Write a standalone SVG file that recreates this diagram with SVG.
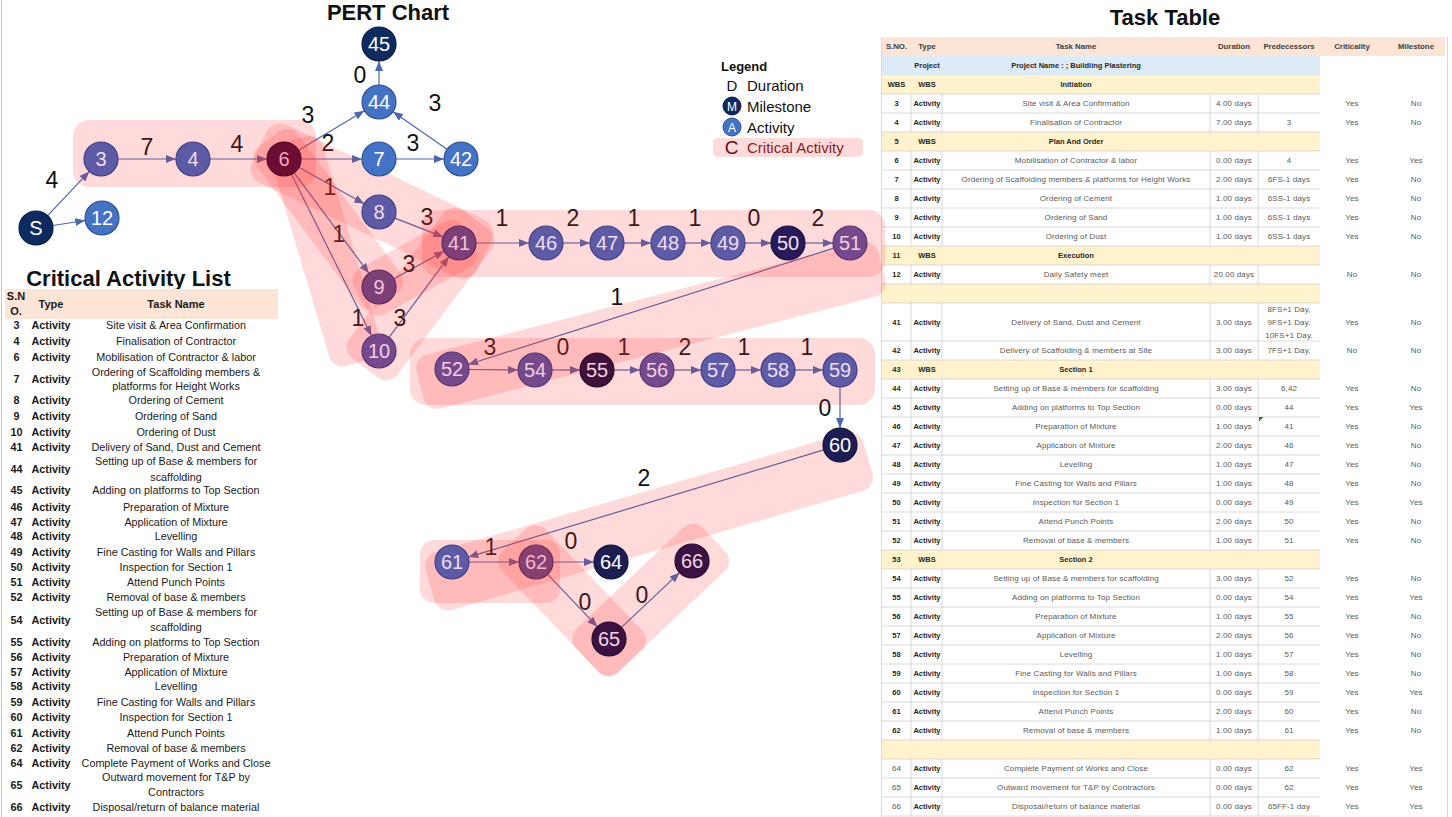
<svg xmlns="http://www.w3.org/2000/svg" width="1452" height="817" viewBox="0 0 1452 817">
<style>
text{font-family:"Liberation Sans",Arial,sans-serif}
.title{font-size:22px;font-weight:bold;fill:#111}
.hl{fill:#ff3030;fill-opacity:0.18}
.cn{stroke:#4a66ae;stroke-width:1.2;fill:none;marker-end:url(#ah)}
.dl{font-size:23px;fill:#111;text-anchor:middle}
.nd text{font-size:20px;text-anchor:middle}
.nd circle{stroke-width:1.2}
.blue circle{fill:#4472c4;stroke:#2f528f}.blue text{fill:#fff}
.navy circle{fill:#0e2a5e;stroke:#0a1f47}.navy text{fill:#fff}
.c1 circle{fill:#5d5ba6;stroke:#453f85}.c1 text{fill:#f4dcef}
.c2 circle{fill:#744a8c;stroke:#5a3470}.c2 text{fill:#f3cde0}
.c3 circle{fill:#7d3f78;stroke:#5f2b5c}.c3 text{fill:#f3c4d8}
.c62 circle{fill:#874070;stroke:#6a2f58}.c62 text{fill:#f2b6cc}
.c6 circle{fill:#6c0d33;stroke:#520826}.c6 text{fill:#f5a9b8}
.c50 circle{fill:#261a58;stroke:#1a1142}.c50 text{fill:#f0e0f0}
.c55 circle{fill:#3f1239;stroke:#2c0b28}.c55 text{fill:#f0d0e0}
.c60 circle{fill:#1d1d52;stroke:#13133d}.c60 text{fill:#fff}
.c65 circle{fill:#3b1242;stroke:#290b2f}.c65 text{fill:#f2d6e6}
.tt{font-size:8px;letter-spacing:0.12px;fill:#595959;text-anchor:middle}
.tt .b{font-weight:bold;fill:#262626;font-size:7.5px;letter-spacing:0}
.th{font-size:7.8px;font-weight:bold;fill:#404040;text-anchor:middle}
.cl{font-size:10.8px;fill:#1a1a1a;text-anchor:middle}
.cl .b{font-weight:bold;font-size:10.8px}
.clh{font-size:11px;font-weight:bold;fill:#1a1a1a;text-anchor:middle}
.grid{stroke:#d0d0d0;stroke-width:0.8;fill:none}
.lg{font-size:15px;fill:#111}
</style>
<defs>
<marker id="ah" viewBox="0 0 10 8" refX="10" refY="4" markerWidth="10" markerHeight="8" markerUnits="userSpaceOnUse" orient="auto"><path d="M0,0 L10,4 L0,8 z" fill="#4a66ae"/></marker>
</defs>
<rect width="1452" height="817" fill="#fff"/>
<line x1="1.5" y1="0" x2="1.5" y2="817" stroke="#c4c4c4" stroke-width="1"/>

<!-- Titles -->
<text class="title" x="388" y="20" text-anchor="middle">PERT Chart</text>
<text class="title" x="1165" y="25" text-anchor="middle">Task Table</text>
<text class="title" x="128.5" y="286" text-anchor="middle">Critical Activity List</text>

<!-- Task Table -->
<g id="task-table">
<rect x="882" y="37" width="563" height="19" fill="#fce4d6"/>
<rect x="882" y="56" width="438" height="19" fill="#ddebf7"/>
<g fill="#fff2cc">
<rect x="882" y="75" width="438" height="19"/>
<rect x="882" y="132" width="438" height="19"/>
<rect x="882" y="246" width="438" height="19"/>
<rect x="882" y="284" width="438" height="19"/>
<rect x="882" y="360" width="438" height="19"/>
<rect x="882" y="550" width="438" height="19"/>
<rect x="882" y="740" width="438" height="19"/>
</g>
<path class="grid" d="M882,94H1320M882,113H1320M882,132H1320M882,151H1320M882,170H1320M882,189H1320M882,208H1320M882,227H1320M882,246H1320M882,265H1320M882,284H1320M882,303H1320M882,341H1320M882,360H1320M882,379H1320M882,398H1320M882,417H1320M882,436H1320M882,455H1320M882,474H1320M882,493H1320M882,512H1320M882,531H1320M882,550H1320M882,569H1320M882,588H1320M882,607H1320M882,626H1320M882,645H1320M882,664H1320M882,683H1320M882,702H1320M882,721H1320M882,740H1320M882,759H1320M882,778H1320M882,797H1320M882,816H1320"/>
<path class="grid" d="M911,94V132M942,94V132M1210,94V132M1258,94V132M911,151V246M942,151V246M1210,151V246M1258,151V246M911,265V284M942,265V284M1210,265V284M1258,265V284M911,303V360M942,303V360M1210,303V360M1258,303V360M911,379V550M942,379V550M1210,379V550M1258,379V550M911,569V740M942,569V740M1210,569V740M1258,569V740M911,759V816M942,759V816M1210,759V816M1258,759V816"/>
<line x1="881.5" y1="37" x2="881.5" y2="817" stroke="#d9d9d9" stroke-width="1"/>
<line x1="1447.5" y1="37" x2="1447.5" y2="817" stroke="#d9d9d9" stroke-width="1"/>
<path d="M1259,417h4.5l-4.5,4.5z" fill="#1e8a3a"/>
<text class="th" y="49.2"><tspan x="896.5">S.NO.</tspan><tspan x="927">Type</tspan><tspan x="1076">Task Name</tspan><tspan x="1234">Duration</tspan><tspan x="1289">Predecessors</tspan><tspan x="1352">Criticality</tspan><tspan x="1416">Milestone</tspan></text>
<text class="tt" y="68.2"><tspan class="b" x="927">Project</tspan><tspan class="b" x="1076">Project Name : ; Buildiing Plastering</tspan></text>
<text class="tt" y="87.2"><tspan class="b" x="896.5">WBS</tspan><tspan class="b" x="927">WBS</tspan><tspan class="b" x="1076">Initiation</tspan></text>
<text class="tt" y="106.2"><tspan class="b" x="896.5">3</tspan><tspan class="b" x="927">Activity</tspan><tspan x="1076">Site visit &amp; Area Confirmation</tspan><tspan x="1234">4.00 days</tspan><tspan x="1352">Yes</tspan><tspan x="1416">No</tspan></text>
<text class="tt" y="125.2"><tspan class="b" x="896.5">4</tspan><tspan class="b" x="927">Activity</tspan><tspan x="1076">Finalisation of Contractor</tspan><tspan x="1234">7.00 days</tspan><tspan x="1289">3</tspan><tspan x="1352">Yes</tspan><tspan x="1416">No</tspan></text>
<text class="tt" y="144.2"><tspan class="b" x="896.5">5</tspan><tspan class="b" x="927">WBS</tspan><tspan class="b" x="1076">Plan And Order</tspan></text>
<text class="tt" y="163.2"><tspan class="b" x="896.5">6</tspan><tspan class="b" x="927">Activity</tspan><tspan x="1076">Mobilisation of Contractor &amp; labor</tspan><tspan x="1234">0.00 days</tspan><tspan x="1289">4</tspan><tspan x="1352">Yes</tspan><tspan x="1416">Yes</tspan></text>
<text class="tt" y="182.2"><tspan class="b" x="896.5">7</tspan><tspan class="b" x="927">Activity</tspan><tspan x="1076">Ordering of Scaffolding members &amp; platforms for Height Works</tspan><tspan x="1234">2.00 days</tspan><tspan x="1289">6FS-1 days</tspan><tspan x="1352">Yes</tspan><tspan x="1416">No</tspan></text>
<text class="tt" y="201.2"><tspan class="b" x="896.5">8</tspan><tspan class="b" x="927">Activity</tspan><tspan x="1076">Ordering of Cement</tspan><tspan x="1234">1.00 days</tspan><tspan x="1289">6SS-1 days</tspan><tspan x="1352">Yes</tspan><tspan x="1416">No</tspan></text>
<text class="tt" y="220.2"><tspan class="b" x="896.5">9</tspan><tspan class="b" x="927">Activity</tspan><tspan x="1076">Ordering of Sand</tspan><tspan x="1234">1.00 days</tspan><tspan x="1289">6SS-1 days</tspan><tspan x="1352">Yes</tspan><tspan x="1416">No</tspan></text>
<text class="tt" y="239.2"><tspan class="b" x="896.5">10</tspan><tspan class="b" x="927">Activity</tspan><tspan x="1076">Ordering of Dust</tspan><tspan x="1234">1.00 days</tspan><tspan x="1289">6SS-1 days</tspan><tspan x="1352">Yes</tspan><tspan x="1416">No</tspan></text>
<text class="tt" y="258.2"><tspan class="b" x="896.5">11</tspan><tspan class="b" x="927">WBS</tspan><tspan class="b" x="1076">Execution</tspan></text>
<text class="tt" y="277.2"><tspan class="b" x="896.5">12</tspan><tspan class="b" x="927">Activity</tspan><tspan x="1076">Daily Safety meet</tspan><tspan x="1234">20.00 days</tspan><tspan x="1352">No</tspan><tspan x="1416">No</tspan></text>
<text class="tt" y="324.7"><tspan class="b" x="896.5">41</tspan><tspan class="b" x="927">Activity</tspan><tspan x="1076">Delivery of Sand, Dust and Cement</tspan><tspan x="1234">3.00 days</tspan><tspan x="1352">Yes</tspan><tspan x="1416">No</tspan></text>
<text class="tt"><tspan x="1289" y="311.7">8FS+1 Day,</tspan><tspan x="1289" y="324.7">9FS+1 Day,</tspan><tspan x="1289" y="337.7">10FS+1 Day,</tspan></text>
<text class="tt" y="353.2"><tspan class="b" x="896.5">42</tspan><tspan class="b" x="927">Activity</tspan><tspan x="1076">Delivery of Scaffolding &amp; members at Site</tspan><tspan x="1234">3.00 days</tspan><tspan x="1289">7FS+1 Day,</tspan><tspan x="1352">No</tspan><tspan x="1416">No</tspan></text>
<text class="tt" y="372.2"><tspan class="b" x="896.5">43</tspan><tspan class="b" x="927">WBS</tspan><tspan class="b" x="1076">Section 1</tspan></text>
<text class="tt" y="391.2"><tspan class="b" x="896.5">44</tspan><tspan class="b" x="927">Activity</tspan><tspan x="1076">Setting up of Base &amp; members for scaffolding</tspan><tspan x="1234">3.00 days</tspan><tspan x="1289">6,42</tspan><tspan x="1352">Yes</tspan><tspan x="1416">No</tspan></text>
<text class="tt" y="410.2"><tspan class="b" x="896.5">45</tspan><tspan class="b" x="927">Activity</tspan><tspan x="1076">Adding on platforms to Top Section</tspan><tspan x="1234">0.00 days</tspan><tspan x="1289">44</tspan><tspan x="1352">Yes</tspan><tspan x="1416">Yes</tspan></text>
<text class="tt" y="429.2"><tspan class="b" x="896.5">46</tspan><tspan class="b" x="927">Activity</tspan><tspan x="1076">Preparation of Mixture</tspan><tspan x="1234">1.00 days</tspan><tspan x="1289">41</tspan><tspan x="1352">Yes</tspan><tspan x="1416">No</tspan></text>
<text class="tt" y="448.2"><tspan class="b" x="896.5">47</tspan><tspan class="b" x="927">Activity</tspan><tspan x="1076">Application of Mixture</tspan><tspan x="1234">2.00 days</tspan><tspan x="1289">46</tspan><tspan x="1352">Yes</tspan><tspan x="1416">No</tspan></text>
<text class="tt" y="467.2"><tspan class="b" x="896.5">48</tspan><tspan class="b" x="927">Activity</tspan><tspan x="1076">Levelling</tspan><tspan x="1234">1.00 days</tspan><tspan x="1289">47</tspan><tspan x="1352">Yes</tspan><tspan x="1416">No</tspan></text>
<text class="tt" y="486.2"><tspan class="b" x="896.5">49</tspan><tspan class="b" x="927">Activity</tspan><tspan x="1076">Fine Casting for Walls and Pillars</tspan><tspan x="1234">1.00 days</tspan><tspan x="1289">48</tspan><tspan x="1352">Yes</tspan><tspan x="1416">No</tspan></text>
<text class="tt" y="505.2"><tspan class="b" x="896.5">50</tspan><tspan class="b" x="927">Activity</tspan><tspan x="1076">Inspection for Section 1</tspan><tspan x="1234">0.00 days</tspan><tspan x="1289">49</tspan><tspan x="1352">Yes</tspan><tspan x="1416">Yes</tspan></text>
<text class="tt" y="524.2"><tspan class="b" x="896.5">51</tspan><tspan class="b" x="927">Activity</tspan><tspan x="1076">Attend Punch Points</tspan><tspan x="1234">2.00 days</tspan><tspan x="1289">50</tspan><tspan x="1352">Yes</tspan><tspan x="1416">No</tspan></text>
<text class="tt" y="543.2"><tspan class="b" x="896.5">52</tspan><tspan class="b" x="927">Activity</tspan><tspan x="1076">Removal of base &amp; members</tspan><tspan x="1234">1.00 days</tspan><tspan x="1289">51</tspan><tspan x="1352">Yes</tspan><tspan x="1416">No</tspan></text>
<text class="tt" y="562.2"><tspan class="b" x="896.5">53</tspan><tspan class="b" x="927">WBS</tspan><tspan class="b" x="1076">Section 2</tspan></text>
<text class="tt" y="581.2"><tspan class="b" x="896.5">54</tspan><tspan class="b" x="927">Activity</tspan><tspan x="1076">Setting up of Base &amp; members for scaffolding</tspan><tspan x="1234">3.00 days</tspan><tspan x="1289">52</tspan><tspan x="1352">Yes</tspan><tspan x="1416">No</tspan></text>
<text class="tt" y="600.2"><tspan class="b" x="896.5">55</tspan><tspan class="b" x="927">Activity</tspan><tspan x="1076">Adding on platforms to Top Section</tspan><tspan x="1234">0.00 days</tspan><tspan x="1289">54</tspan><tspan x="1352">Yes</tspan><tspan x="1416">Yes</tspan></text>
<text class="tt" y="619.2"><tspan class="b" x="896.5">56</tspan><tspan class="b" x="927">Activity</tspan><tspan x="1076">Preparation of Mixture</tspan><tspan x="1234">1.00 days</tspan><tspan x="1289">55</tspan><tspan x="1352">Yes</tspan><tspan x="1416">No</tspan></text>
<text class="tt" y="638.2"><tspan class="b" x="896.5">57</tspan><tspan class="b" x="927">Activity</tspan><tspan x="1076">Application of Mixture</tspan><tspan x="1234">2.00 days</tspan><tspan x="1289">56</tspan><tspan x="1352">Yes</tspan><tspan x="1416">No</tspan></text>
<text class="tt" y="657.2"><tspan class="b" x="896.5">58</tspan><tspan class="b" x="927">Activity</tspan><tspan x="1076">Levelling</tspan><tspan x="1234">1.00 days</tspan><tspan x="1289">57</tspan><tspan x="1352">Yes</tspan><tspan x="1416">No</tspan></text>
<text class="tt" y="676.2"><tspan class="b" x="896.5">59</tspan><tspan class="b" x="927">Activity</tspan><tspan x="1076">Fine Casting for Walls and Pillars</tspan><tspan x="1234">1.00 days</tspan><tspan x="1289">58</tspan><tspan x="1352">Yes</tspan><tspan x="1416">No</tspan></text>
<text class="tt" y="695.2"><tspan class="b" x="896.5">60</tspan><tspan class="b" x="927">Activity</tspan><tspan x="1076">Inspection for Section 1</tspan><tspan x="1234">0.00 days</tspan><tspan x="1289">59</tspan><tspan x="1352">Yes</tspan><tspan x="1416">Yes</tspan></text>
<text class="tt" y="714.2"><tspan class="b" x="896.5">61</tspan><tspan class="b" x="927">Activity</tspan><tspan x="1076">Attend Punch Points</tspan><tspan x="1234">2.00 days</tspan><tspan x="1289">60</tspan><tspan x="1352">Yes</tspan><tspan x="1416">No</tspan></text>
<text class="tt" y="733.2"><tspan class="b" x="896.5">62</tspan><tspan class="b" x="927">Activity</tspan><tspan x="1076">Removal of base &amp; members</tspan><tspan x="1234">1.00 days</tspan><tspan x="1289">61</tspan><tspan x="1352">Yes</tspan><tspan x="1416">No</tspan></text>
<text class="tt" y="771.2"><tspan x="896.5">64</tspan><tspan class="b" x="927">Activity</tspan><tspan x="1076">Complete Payment of Works and Close</tspan><tspan x="1234">0.00 days</tspan><tspan x="1289">62</tspan><tspan x="1352">Yes</tspan><tspan x="1416">Yes</tspan></text>
<text class="tt" y="790.2"><tspan x="896.5">65</tspan><tspan class="b" x="927">Activity</tspan><tspan x="1076">Outward movement for T&amp;P by Contractors</tspan><tspan x="1234">0.00 days</tspan><tspan x="1289">62</tspan><tspan x="1352">Yes</tspan><tspan x="1416">Yes</tspan></text>
<text class="tt" y="809.2"><tspan x="896.5">66</tspan><tspan class="b" x="927">Activity</tspan><tspan x="1076">Disposal/return of balance material</tspan><tspan x="1234">0.00 days</tspan><tspan x="1289">65FF-1 day</tspan><tspan x="1352">Yes</tspan><tspan x="1416">Yes</tspan></text>
</g>

<!-- Critical Activity List -->
<g id="critical-list">
<rect x="5" y="289" width="273" height="30" fill="#fce4d6"/>
<text class="clh"><tspan x="16" y="300">S.N</tspan><tspan x="16" y="315">O.</tspan><tspan x="51" y="308">Type</tspan><tspan x="176" y="308">Task Name</tspan></text>
<text class="cl" y="329.3"><tspan class="b" x="16.5">3</tspan><tspan class="b" x="51">Activity</tspan><tspan x="176">Site visit &amp; Area Confirmation</tspan></text>
<text class="cl" y="345.3"><tspan class="b" x="16.5">4</tspan><tspan class="b" x="51">Activity</tspan><tspan x="176">Finalisation of Contractor</tspan></text>
<text class="cl" y="360.9"><tspan class="b" x="16.5">6</tspan><tspan class="b" x="51">Activity</tspan><tspan x="176">Mobilisation of Contractor &amp; labor</tspan></text>
<text class="cl"><tspan class="b" x="16.5" y="382.6">7</tspan><tspan class="b" x="51" y="382.6">Activity</tspan><tspan x="176" y="375.9">Ordering of Scaffolding members &amp;</tspan><tspan x="176" y="390.3">platforms for Height Works</tspan></text>
<text class="cl" y="404.3"><tspan class="b" x="16.5">8</tspan><tspan class="b" x="51">Activity</tspan><tspan x="176">Ordering of Cement</tspan></text>
<text class="cl" y="419.6"><tspan class="b" x="16.5">9</tspan><tspan class="b" x="51">Activity</tspan><tspan x="176">Ordering of Sand</tspan></text>
<text class="cl" y="435.6"><tspan class="b" x="16.5">10</tspan><tspan class="b" x="51">Activity</tspan><tspan x="176">Ordering of Dust</tspan></text>
<text class="cl" y="450.6"><tspan class="b" x="16.5">41</tspan><tspan class="b" x="51">Activity</tspan><tspan x="176">Delivery of Sand, Dust and Cement</tspan></text>
<text class="cl"><tspan class="b" x="16.5" y="472.9">44</tspan><tspan class="b" x="51" y="472.9">Activity</tspan><tspan x="176" y="465.3">Setting up of Base &amp; members for</tspan><tspan x="176" y="480.9">scaffolding</tspan></text>
<text class="cl" y="494.3"><tspan class="b" x="16.5">45</tspan><tspan class="b" x="51">Activity</tspan><tspan x="176">Adding on platforms to Top Section</tspan></text>
<text class="cl" y="510.6"><tspan class="b" x="16.5">46</tspan><tspan class="b" x="51">Activity</tspan><tspan x="176">Preparation of Mixture</tspan></text>
<text class="cl" y="525.6"><tspan class="b" x="16.5">47</tspan><tspan class="b" x="51">Activity</tspan><tspan x="176">Application of Mixture</tspan></text>
<text class="cl" y="540.3"><tspan class="b" x="16.5">48</tspan><tspan class="b" x="51">Activity</tspan><tspan x="176">Levelling</tspan></text>
<text class="cl" y="555.9"><tspan class="b" x="16.5">49</tspan><tspan class="b" x="51">Activity</tspan><tspan x="176">Fine Casting for Walls and Pillars</tspan></text>
<text class="cl" y="570.9"><tspan class="b" x="16.5">50</tspan><tspan class="b" x="51">Activity</tspan><tspan x="176">Inspection for Section 1</tspan></text>
<text class="cl" y="585.9"><tspan class="b" x="16.5">51</tspan><tspan class="b" x="51">Activity</tspan><tspan x="176">Attend Punch Points</tspan></text>
<text class="cl" y="600.9"><tspan class="b" x="16.5">52</tspan><tspan class="b" x="51">Activity</tspan><tspan x="176">Removal of base &amp; members</tspan></text>
<text class="cl"><tspan class="b" x="16.5" y="623.6">54</tspan><tspan class="b" x="51" y="623.6">Activity</tspan><tspan x="176" y="615.6">Setting up of Base &amp; members for</tspan><tspan x="176" y="630.9">scaffolding</tspan></text>
<text class="cl" y="645.9"><tspan class="b" x="16.5">55</tspan><tspan class="b" x="51">Activity</tspan><tspan x="176">Adding on platforms to Top Section</tspan></text>
<text class="cl" y="660.9"><tspan class="b" x="16.5">56</tspan><tspan class="b" x="51">Activity</tspan><tspan x="176">Preparation of Mixture</tspan></text>
<text class="cl" y="675.9"><tspan class="b" x="16.5">57</tspan><tspan class="b" x="51">Activity</tspan><tspan x="176">Application of Mixture</tspan></text>
<text class="cl" y="690.3"><tspan class="b" x="16.5">58</tspan><tspan class="b" x="51">Activity</tspan><tspan x="176">Levelling</tspan></text>
<text class="cl" y="705.9"><tspan class="b" x="16.5">59</tspan><tspan class="b" x="51">Activity</tspan><tspan x="176">Fine Casting for Walls and Pillars</tspan></text>
<text class="cl" y="721.3"><tspan class="b" x="16.5">60</tspan><tspan class="b" x="51">Activity</tspan><tspan x="176">Inspection for Section 1</tspan></text>
<text class="cl" y="736.6"><tspan class="b" x="16.5">61</tspan><tspan class="b" x="51">Activity</tspan><tspan x="176">Attend Punch Points</tspan></text>
<text class="cl" y="751.9"><tspan class="b" x="16.5">62</tspan><tspan class="b" x="51">Activity</tspan><tspan x="176">Removal of base &amp; members</tspan></text>
<text class="cl" y="766.6"><tspan class="b" x="16.5">64</tspan><tspan class="b" x="51">Activity</tspan><tspan x="176">Complete Payment of Works and Close</tspan></text>
<text class="cl"><tspan class="b" x="16.5" y="788.6">65</tspan><tspan class="b" x="51" y="788.6">Activity</tspan><tspan x="176" y="781.3">Outward movement for T&amp;P by</tspan><tspan x="176" y="796.3">Contractors</tspan></text>
<text class="cl" y="811.3"><tspan class="b" x="16.5">66</tspan><tspan class="b" x="51">Activity</tspan><tspan x="176">Disposal/return of balance material</tspan></text>
</g>

<!-- Connectors -->
<g id="connectors">
<line class="cn" x1="47.7" y1="215.6" x2="89.3" y2="171.4"/>
<line class="cn" x1="52.8" y1="225.5" x2="85.2" y2="220.5"/>
<line class="cn" x1="118" y1="159" x2="176" y2="159"/>
<line class="cn" x1="210" y1="159" x2="267" y2="159"/>
<line class="cn" x1="298.6" y1="150.3" x2="364.4" y2="110.7"/>
<line class="cn" x1="301" y1="159" x2="362" y2="159"/>
<line class="cn" x1="396" y1="159" x2="444" y2="159"/>
<line class="cn" x1="447" y1="149.3" x2="393" y2="111.7"/>
<line class="cn" x1="379" y1="85" x2="379" y2="61"/>
<line class="cn" x1="298.8" y1="167.3" x2="364.2" y2="203.7"/>
<line class="cn" x1="294.1" y1="172.7" x2="368.9" y2="273.3"/>
<line class="cn" x1="291.5" y1="174.2" x2="371.5" y2="335.8"/>
<line class="cn" x1="394.8" y1="218.1" x2="443.2" y2="236.9"/>
<line class="cn" x1="393.9" y1="278.8" x2="444.1" y2="251.2"/>
<line class="cn" x1="389.1" y1="337.3" x2="448.9" y2="256.7"/>
<line class="cn" x1="476" y1="243" x2="529" y2="243"/>
<line class="cn" x1="563" y1="243" x2="590" y2="243"/>
<line class="cn" x1="624" y1="243" x2="651" y2="243"/>
<line class="cn" x1="685" y1="243" x2="711" y2="243"/>
<line class="cn" x1="745" y1="243" x2="771" y2="243"/>
<line class="cn" x1="805" y1="243" x2="833" y2="243"/>
<line class="cn" x1="833.8" y1="248.1" x2="468.2" y2="364.5"/>
<line class="cn" x1="469" y1="369.5" x2="518" y2="370"/>
<line class="cn" x1="552" y1="370" x2="580" y2="370"/>
<line class="cn" x1="614" y1="370" x2="640" y2="370"/>
<line class="cn" x1="674" y1="370" x2="701" y2="370"/>
<line class="cn" x1="735" y1="370" x2="761" y2="370"/>
<line class="cn" x1="795" y1="370" x2="823" y2="370"/>
<line class="cn" x1="840" y1="387" x2="840" y2="428"/>
<line class="cn" x1="823.7" y1="449.9" x2="468.3" y2="557.1"/>
<line class="cn" x1="469" y1="562" x2="519" y2="562"/>
<line class="cn" x1="553" y1="562" x2="594" y2="562"/>
<line class="cn" x1="547.7" y1="574.3" x2="597.3" y2="626.7"/>
<line class="cn" x1="621.4" y1="627.4" x2="679.6" y2="572.6"/>
</g>

<!-- Duration labels -->
<g id="durations" class="dl">
<text x="52" y="188">4</text>
<text x="147" y="155">7</text>
<text x="237" y="152">4</text>
<text x="308" y="123">3</text>
<text x="328" y="151">2</text>
<text x="330" y="195">1</text>
<text x="339" y="242">1</text>
<text x="358" y="326">1</text>
<text x="427" y="225">3</text>
<text x="409" y="272">3</text>
<text x="400" y="326">3</text>
<text x="360" y="83">0</text>
<text x="435" y="111">3</text>
<text x="413" y="151">3</text>
<text x="502" y="226">1</text>
<text x="573" y="226">2</text>
<text x="634" y="226">1</text>
<text x="695" y="226">1</text>
<text x="754" y="226">0</text>
<text x="818" y="226">2</text>
<text x="617" y="305">1</text>
<text x="490" y="355">3</text>
<text x="563" y="355">0</text>
<text x="624" y="355">1</text>
<text x="685" y="355">2</text>
<text x="744" y="355">1</text>
<text x="807" y="355">1</text>
<text x="825" y="416">0</text>
<text x="644" y="486">2</text>
<text x="491" y="555">1</text>
<text x="571" y="549">0</text>
<text x="585" y="610">0</text>
<text x="642" y="603">0</text>
</g>

<!-- Critical path highlights -->
<g id="critical-highlights" class="hl">
<rect x="73" y="120" width="243" height="67" rx="16"/>
<rect x="0" y="-32" width="250" height="64" rx="16" transform="translate(259 147) rotate(25.64)"/>
<rect x="0" y="-27" width="232" height="54" rx="14" transform="translate(293 140) rotate(73.44)"/>
<rect x="0" y="-30" width="185" height="60" rx="14" transform="translate(365 368) rotate(-53.13)"/>
<rect x="0" y="-26" width="200" height="52" rx="14" transform="translate(269 139) rotate(53.51)"/>
<rect x="0" y="-26" width="125" height="52" rx="14" transform="translate(360 298) rotate(-28.77)"/>
<rect x="422" y="210" width="463" height="67" rx="16"/>
<rect x="0" y="-28" width="477" height="56" rx="14" transform="translate(420 385) rotate(-14.44)"/>
<rect x="410" y="338" width="465" height="67" rx="16"/>
<rect x="0" y="-30" width="456" height="60" rx="14" transform="translate(430 585) rotate(-16.17)"/>
<rect x="420" y="540" width="140" height="63" rx="14"/>
<rect x="0" y="-30" width="168" height="60" rx="14" transform="translate(514 540) rotate(46.21)"/>
<rect x="0" y="-30" width="175" height="60" rx="14" transform="translate(587 660) rotate(-43.38)"/>
</g>

<!-- Nodes -->
<g id="node-S" class="nd navy"><circle cx="36" cy="228" r="17"/><text x="36" y="235">S</text></g>
<g id="node-12" class="nd blue"><circle cx="102" cy="218" r="17"/><text x="102" y="225">12</text></g>
<g id="node-3" class="nd c1"><circle cx="101" cy="159" r="17"/><text x="101" y="166">3</text></g>
<g id="node-4" class="nd c1"><circle cx="193" cy="159" r="17"/><text x="193" y="166">4</text></g>
<g id="node-6" class="nd c6"><circle cx="284" cy="159" r="17"/><text x="284" y="166">6</text></g>
<g id="node-7" class="nd blue"><circle cx="379" cy="159" r="17"/><text x="379" y="166">7</text></g>
<g id="node-42" class="nd blue"><circle cx="461" cy="159" r="17"/><text x="461" y="166">42</text></g>
<g id="node-44" class="nd blue"><circle cx="379" cy="102" r="17"/><text x="379" y="109">44</text></g>
<g id="node-45" class="nd navy"><circle cx="379" cy="44" r="17"/><text x="379" y="51">45</text></g>
<g id="node-8" class="nd c1"><circle cx="379" cy="212" r="17"/><text x="379" y="219">8</text></g>
<g id="node-9" class="nd c3"><circle cx="379" cy="287" r="17"/><text x="379" y="294">9</text></g>
<g id="node-10" class="nd c2"><circle cx="379" cy="351" r="17"/><text x="379" y="358">10</text></g>
<g id="node-41" class="nd c3"><circle cx="459" cy="243" r="17"/><text x="459" y="250">41</text></g>
<g id="node-46" class="nd c1"><circle cx="546" cy="243" r="17"/><text x="546" y="250">46</text></g>
<g id="node-47" class="nd c1"><circle cx="607" cy="243" r="17"/><text x="607" y="250">47</text></g>
<g id="node-48" class="nd c1"><circle cx="668" cy="243" r="17"/><text x="668" y="250">48</text></g>
<g id="node-49" class="nd c1"><circle cx="728" cy="243" r="17"/><text x="728" y="250">49</text></g>
<g id="node-50" class="nd c50"><circle cx="788" cy="243" r="17"/><text x="788" y="250">50</text></g>
<g id="node-51" class="nd c2"><circle cx="850" cy="243" r="17"/><text x="850" y="250">51</text></g>
<g id="node-52" class="nd c2"><circle cx="452" cy="369" r="17"/><text x="452" y="376">52</text></g>
<g id="node-54" class="nd c2"><circle cx="535" cy="370" r="17"/><text x="535" y="377">54</text></g>
<g id="node-55" class="nd c55"><circle cx="597" cy="370" r="17"/><text x="597" y="377">55</text></g>
<g id="node-56" class="nd c2"><circle cx="657" cy="370" r="17"/><text x="657" y="377">56</text></g>
<g id="node-57" class="nd c1"><circle cx="718" cy="370" r="17"/><text x="718" y="377">57</text></g>
<g id="node-58" class="nd c1"><circle cx="778" cy="370" r="17"/><text x="778" y="377">58</text></g>
<g id="node-59" class="nd c1"><circle cx="840" cy="370" r="17"/><text x="840" y="377">59</text></g>
<g id="node-60" class="nd c60"><circle cx="840" cy="445" r="17"/><text x="840" y="452">60</text></g>
<g id="node-61" class="nd c1"><circle cx="452" cy="562" r="17"/><text x="452" y="569">61</text></g>
<g id="node-62" class="nd c62"><circle cx="536" cy="562" r="17"/><text x="536" y="569">62</text></g>
<g id="node-64" class="nd c60"><circle cx="611" cy="562" r="17"/><text x="611" y="569">64</text></g>
<g id="node-65" class="nd c65"><circle cx="609" cy="639" r="17"/><text x="609" y="646">65</text></g>
<g id="node-66" class="nd c65"><circle cx="692" cy="561" r="17"/><text x="692" y="568">66</text></g>

<!-- Legend -->
<g id="legend">
<text x="721" y="71" font-size="13" font-weight="bold" fill="#111">Legend</text>
<text class="lg" x="732" y="91" text-anchor="middle">D</text>
<text class="lg" x="747" y="91">Duration</text>
<circle cx="732" cy="106" r="9" fill="#0e2a5e" stroke="#0a1f47"/>
<text x="732" y="110.5" font-size="12" fill="#fff" text-anchor="middle">M</text>
<text class="lg" x="747" y="112">Milestone</text>
<circle cx="732" cy="127" r="9" fill="#4472c4" stroke="#2f528f"/>
<text x="732" y="131.5" font-size="12" fill="#fff" text-anchor="middle">A</text>
<text class="lg" x="747" y="133">Activity</text>
<rect class="hl" x="713" y="138" width="150" height="19" rx="5"/>
<text x="731.5" y="154" font-size="19" fill="#6a0a14" text-anchor="middle">C</text>
<text class="lg" x="747" y="153" style="fill:#8a1c1c">Critical Activity</text>
</g>
</svg>
